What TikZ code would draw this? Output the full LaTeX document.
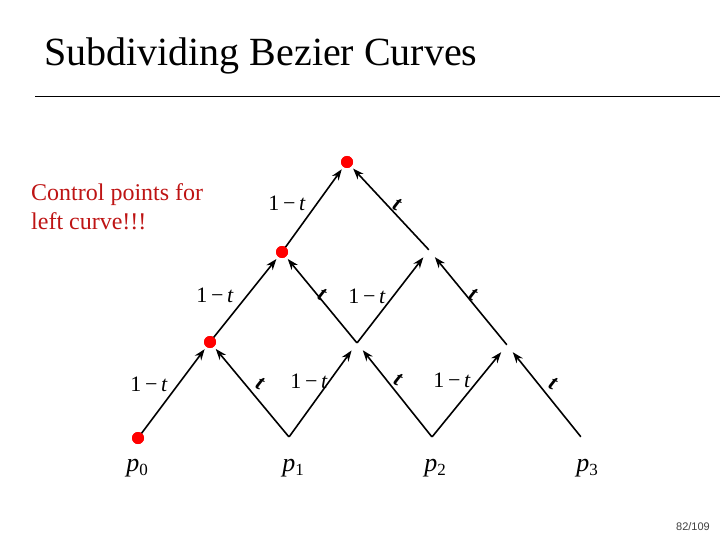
\documentclass[tikz,border=0pt]{standalone}
\usepackage{fontspec}
\setmainfont{Liberation Serif}
\newfontfamily\pagefont{Liberation Sans}
\usetikzlibrary{arrows.meta}
\definecolor{ctrlred}{RGB}{190,20,20}
\definecolor{dotred}{RGB}{255,0,0}
\tikzset{
  pt/.style={inner sep=0pt,minimum size=0pt},
  dot/.style={circle,fill=dotred,inner sep=0pt,minimum size=12pt},
  arr/.style={line width=1.6pt,-{Stealth[length=11pt,width=8pt]},shorten >=9pt},
  wlab/.style={font=\fontsize{22}{24}\selectfont,inner sep=0pt},
  tlab/.style={font=\fontsize{22}{24}\selectfont\bfseries\itshape,inner sep=0pt,rotate=-28},
  plab/.style={font=\fontsize{26}{28}\selectfont,inner sep=0pt}
}
\newcommand{\omt}{1\,\char"2212\,\textit{t}}
\begin{document}
\begin{tikzpicture}[x=1pt,y=-1pt]
\useasboundingbox (0,0) rectangle (720,540);
% title
\node[anchor=base west,inner sep=0pt,font=\fontsize{40}{44}\selectfont] (title) at (44,66) {Subdividing Bezier Curves};
\draw[line width=0.8pt] (35,96) -- (720,96);
% note
\node[anchor=north west,align=left,inner sep=0pt,text=ctrlred,font=\fontsize{24}{29}\selectfont] (note) at (31,183) {Control points for\\left curve!!!};
% points
\node[dot] (p0) at (138,438) {};
\node[pt] (p1) at (289,437) {};
\node[pt] (p2) at (432,437) {};
\node[pt] (p3) at (581,437) {};
\node[dot] (A) at (210,342) {};
\node[pt] (B) at (357,343) {};
\node[pt] (C) at (507,345) {};
\node[dot] (D) at (282,252) {};
\node[pt] (E) at (429,250) {};
\node[dot] (F) at (347,162) {};
% arrows
\draw[arr] (p0.center) -- (A.center);
\draw[arr] (p1) -- (A.center);
\draw[arr] (p1) -- (B);
\draw[arr] (p2) -- (B);
\draw[arr] (p2) -- (C);
\draw[arr] (p3) -- (C);
\draw[arr] (A.center) -- (D.center);
\draw[arr] (B) -- (D.center);
\draw[arr] (B) -- (E);
\draw[arr] (C) -- (E);
\draw[arr] (D.center) -- (F.center);
\draw[arr] (E) -- (F.center);
% redraw dots on top
\foreach \n in {p0,A,D,F} \fill[dotred] (\n.center) circle (6pt);
% weight labels
\node[wlab] (l1) at (287,203) {\omt};
\node[tlab] (l2) at (397,205) {t};
\node[wlab] (l3) at (215,295) {\omt};
\node[tlab] (l4) at (322,295) {t};
\node[wlab] (l5) at (367,296) {\omt};
\node[tlab] (l6) at (473,295) {t};
\node[wlab] (l7) at (149,384) {\omt};
\node[tlab] (l8) at (260,384) {t};
\node[wlab] (l9) at (309,381) {\omt};
\node[tlab] (l10) at (398,380) {t};
\node[wlab] (l11) at (452,380) {\omt};
\node[tlab] (l12) at (553,384) {t};
% p labels
\node[plab] (q0) at (137,468) {\textit{p}\raisebox{-4pt}{\fontsize{17}{18}\selectfont 0}};
\node[plab] (q1) at (293,468) {\textit{p}\raisebox{-4pt}{\fontsize{17}{18}\selectfont 1}};
\node[plab] (q2) at (435,468) {\textit{p}\raisebox{-4pt}{\fontsize{17}{18}\selectfont 2}};
\node[plab] (q3) at (587,468) {\textit{p}\raisebox{-4pt}{\fontsize{17}{18}\selectfont 3}};
% page number
\node[inner sep=0pt,text=black!75,font=\pagefont\fontsize{11}{12}\selectfont] (pg) at (693,527) {82/109};
\end{tikzpicture}
\end{document}
